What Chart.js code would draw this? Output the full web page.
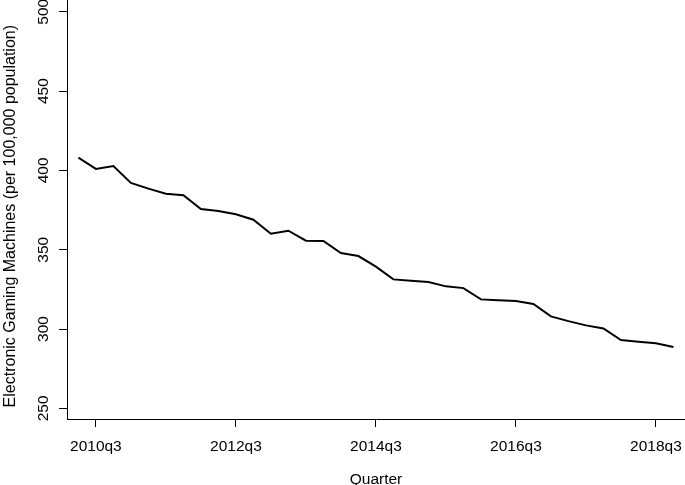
<!DOCTYPE html>
<html><head><meta charset="utf-8">
<script src="https://cdn.jsdelivr.net/npm/chart.js@4.4.1/dist/chart.umd.min.js"></script>
<style>html,body{margin:0;padding:0;background:#fff;} #c{display:block;}</style>
</head><body>
<canvas id="c" width="685" height="485"></canvas>
<script>
const quarters = ['2010q2','2010q3','2010q4',
  '2011q1','2011q2','2011q3','2011q4',
  '2012q1','2012q2','2012q3','2012q4',
  '2013q1','2013q2','2013q3','2013q4',
  '2014q1','2014q2','2014q3','2014q4',
  '2015q1','2015q2','2015q3','2015q4',
  '2016q1','2016q2','2016q3','2016q4',
  '2017q1','2017q2','2017q3','2017q4',
  '2018q1','2018q2','2018q3','2018q4'];
const egmPer100k = [408.0,400.9,402.8,
  392.1,388.5,385.3,384.3,
  375.7,374.4,372.3,368.9,
  360.1,362.0,355.7,355.5,
  347.9,346.0,339.3,331.3,
  330.5,329.6,326.9,325.8,
  318.7,318.1,317.7,315.8,
  308.0,305.0,302.3,300.4,
  293.1,292.0,291.0,288.7];
const xTickLabels = ['2010q3','2012q3','2014q3','2016q3','2018q3'];
const yTickValues = [250,300,350,400,450,500];

const FONT = "'Liberation Sans', Arial, Helvetica, sans-serif";
const points = egmPer100k.map((v, i) => ({x: i, y: v}));

new Chart(document.getElementById('c'), {
  type: 'line',
  data: { datasets: [{ data: points, borderColor: '#000', borderWidth: 2, pointRadius: 0, tension: 0, fill: false }] },
  options: {
    responsive: false, animation: false, devicePixelRatio: 1,
    layout: { padding: 0 },
    plugins: { legend: { display: false }, tooltip: { enabled: false } },
    scales: {
      x: {
        type: 'linear', min: -0.65, max: 34.66,
        afterBuildTicks: s => { s.ticks = xTickLabels.map(l => ({ value: quarters.indexOf(l) })); },
        afterFit: s => { s.height = 66; s.paddingLeft = 0; s.paddingRight = 0; },
        border: { display: true, color: '#000', width: 1 },
        grid: { drawOnChartArea: false, drawTicks: true, tickLength: 8, tickColor: '#000', color: '#000' },
        ticks: { autoSkip: false, maxRotation: 0, minRotation: 0, padding: 10, color: '#000', font: { family: FONT, size: 15.5 },
          callback: v => quarters[v] },
        title: { display: true, text: 'Quarter', color: '#000', font: { family: FONT, size: 15.5, lineHeight: 0.7 }, padding: { top: 0, bottom: 0 } }
      },
      y: {
        type: 'linear', min: 243.3, max: 507.4,
        afterBuildTicks: s => { s.ticks = yTickValues.map(v => ({ value: v })); },
        afterFit: s => { s.width = 67; s.paddingTop = 0; s.paddingBottom = 0; },
        border: { display: true, color: '#000', width: 1 },
        grid: { drawOnChartArea: false, drawTicks: true, tickLength: 8, tickColor: '#000', color: '#000' },
        ticks: { autoSkip: false, minRotation: 90, maxRotation: 90, crossAlign: 'center', padding: 2, color: '#000', font: { family: FONT, size: 15.5 } },
        title: { display: true, text: 'Electronic Gaming Machines (per 100,000 population)   ', color: '#000', font: { family: FONT, size: 16, lineHeight: 1.2 }, padding: { top: 0.5, bottom: 0 } }
      }
    }
  }
});
</script>
</body></html>
